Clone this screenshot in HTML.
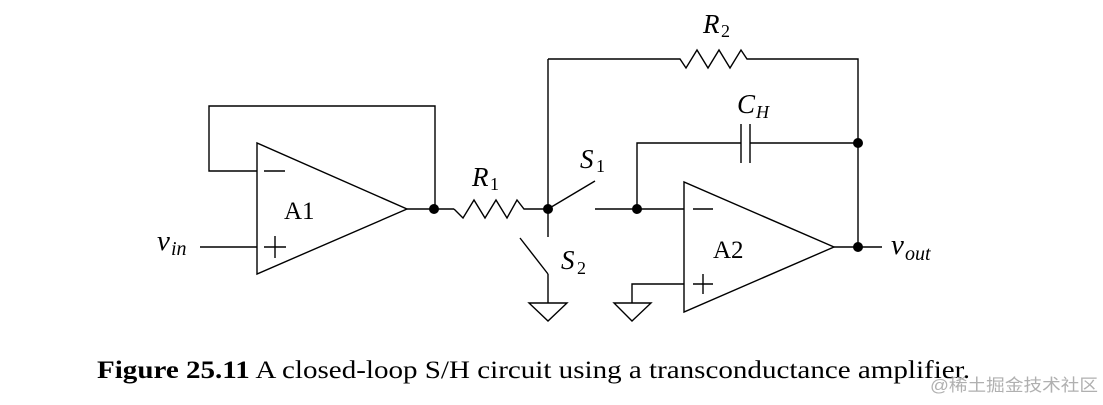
<!DOCTYPE html>
<html><head><meta charset="utf-8"><style>
html,body{margin:0;padding:0;background:#fff;}
svg{display:block;}
</style></head><body>
<svg width="1103" height="405" viewBox="0 0 1103 405" xmlns="http://www.w3.org/2000/svg" font-family="'Liberation Serif','Times New Roman',serif">
<g fill="none" stroke="#000" stroke-width="1.4">
<polygon points="257,143 257,274 407,209"/>
<polyline points="257,171 209,171 209,106 435,106 435,209"/>
<line x1="264" y1="171" x2="285" y2="171"/>
<line x1="200" y1="247" x2="257" y2="247"/>
<line x1="264" y1="247" x2="286" y2="247"/><line x1="275" y1="236" x2="275" y2="258"/>
<line x1="407" y1="209" x2="454" y2="209"/>
<polyline points="454,209 463,218 474,200 485,218 496,200 507,218 517,200 524,209 548,209"/>
<line x1="548" y1="59" x2="548" y2="237"/>
<line x1="548" y1="209" x2="595" y2="181"/>
<line x1="595" y1="209" x2="684" y2="209"/>
<line x1="520" y1="238" x2="548" y2="274"/>
<line x1="548" y1="274" x2="548" y2="303"/>
<polygon points="529,303 567,303 548,321"/>
<polyline points="548,59 680,59 686,68 697,50 708,68 719,50 730,68 741,50 747,59 858,59 858,247"/>
<polyline points="637,209 637,143 741,143"/>
<line x1="741" y1="124" x2="741" y2="163"/>
<line x1="750" y1="124" x2="750" y2="163"/>
<line x1="750" y1="143" x2="858" y2="143"/>
<polygon points="684,182 684,312 834,247"/>
<line x1="693" y1="209" x2="713" y2="209"/>
<line x1="693" y1="284" x2="713" y2="284"/><line x1="703" y1="274" x2="703" y2="294"/>
<polyline points="684,284 632,284 632,303"/>
<polygon points="614,303 651,303 632,321"/>
<line x1="834" y1="247" x2="882" y2="247"/>
</g>
<g fill="#000">
<circle cx="434" cy="209" r="5"/>
<circle cx="548" cy="209" r="5"/>
<circle cx="637" cy="209" r="5"/>
<circle cx="858" cy="143" r="5"/>
<circle cx="858" cy="247" r="5"/>
</g>
<g fill="#000">
<text x="284" y="219" font-size="25">A1</text>
<text x="713" y="258" font-size="25">A2</text>
<text x="472" y="186" font-size="27" font-style="italic">R</text><text x="490" y="190" font-size="18">1</text>
<text x="703" y="33" font-size="27" font-style="italic">R</text><text x="721" y="37" font-size="18">2</text>
<text x="737" y="113" font-size="27" font-style="italic">C</text><text x="756" y="118" font-size="18" font-style="italic">H</text>
<text x="580" y="168" font-size="27" font-style="italic">S</text><text x="596" y="172" font-size="18">1</text>
<text x="561" y="269" font-size="27" font-style="italic">S</text><text x="577" y="274" font-size="18">2</text>
<text x="157" y="250" font-size="29" font-style="italic">v</text><text x="171" y="255" font-size="20" font-style="italic">in</text>
<text x="891" y="254" font-size="29" font-style="italic">v</text><text x="905" y="260" font-size="20" font-style="italic">out</text>
<text x="97" y="378" font-size="25" textLength="873" lengthAdjust="spacingAndGlyphs"><tspan font-weight="bold">Figure 25.11</tspan> A closed-loop S/H circuit using a transconductance amplifier.</text>
</g>
<text x="930" y="391" font-size="17" fill="#b0b0b0" textLength="168" lengthAdjust="spacingAndGlyphs" font-family="'Liberation Sans','Noto Sans CJK SC',sans-serif">@稀土掘金技术社区</text>
</svg>
</body></html>
